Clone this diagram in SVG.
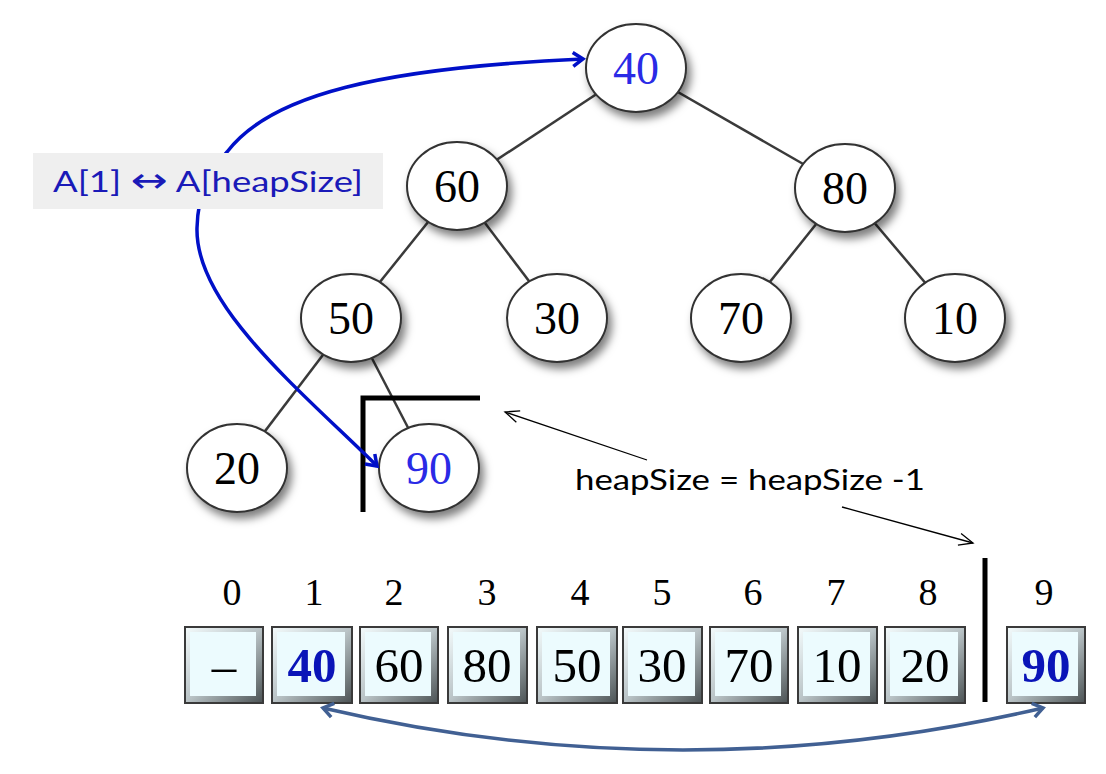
<svg xmlns="http://www.w3.org/2000/svg" width="1106" height="774" viewBox="0 0 1106 774">
<defs>
<filter id="sh" x="-30%" y="-30%" width="170%" height="170%">
<feDropShadow dx="4" dy="6" stdDeviation="4" flood-color="#000" flood-opacity="0.5"/>
</filter>
<linearGradient id="bev" x1="0" y1="0" x2="1" y2="1">
<stop offset="0" stop-color="#f4fbfc"/>
<stop offset="0.5" stop-color="#b9c3c6"/>
<stop offset="1" stop-color="#4b5254"/>
</linearGradient>
<marker id="mb" viewBox="-12 -9 14 18" refX="0" refY="0" markerWidth="14" markerHeight="18" markerUnits="userSpaceOnUse" orient="auto-start-reverse" overflow="visible">
<path d="M-10,-7 L0,0 L-10,7" fill="none" stroke="#0010c8" stroke-width="3.5" stroke-linejoin="miter"/>
</marker>
<marker id="ms" viewBox="-12 -9 14 18" refX="0" refY="0" markerWidth="14" markerHeight="18" markerUnits="userSpaceOnUse" orient="auto-start-reverse" overflow="visible">
<path d="M-10,-7 L0,0 L-10,7" fill="none" stroke="#416093" stroke-width="3.5"/>
</marker>
<marker id="mk" viewBox="-16 -8 18 16" refX="0" refY="0" markerWidth="18" markerHeight="16" markerUnits="userSpaceOnUse" orient="auto" overflow="visible">
<path d="M-14,-6 L0,0 L-14,6" fill="none" stroke="#000" stroke-width="1.3"/>
</marker>
</defs>
<style>
.edge{stroke:#3a3a3a;stroke-width:2.5;fill:none}
.node ellipse{fill:#fff;stroke:#333;stroke-width:2;filter:url(#sh)}
.nt{font-family:"Liberation Serif",serif;font-size:46px;text-anchor:middle;fill:#000}
.blue{fill:#2a2ae6}
.cell .o{fill:url(#bev);stroke:#3a3a3a;stroke-width:2}
.cell .i{fill:#ecfbfe}
.cv{font-family:"Liberation Serif",serif;font-size:49px;text-anchor:middle;fill:#000}
.cvb{font-weight:bold;fill:#0a14b8}
.idx{font-family:"Liberation Serif",serif;font-size:38px;text-anchor:middle;fill:#000}
.lbl{font-family:Lato,"DejaVu Sans",sans-serif;font-size:28px}
</style>
<rect width="1106" height="774" fill="#fff"/>

<g id="connectors">
<line class="edge" x1="636" y1="68" x2="457" y2="186"/>
<line class="edge" x1="636" y1="68" x2="845" y2="188"/>
<line class="edge" x1="457" y1="186" x2="351" y2="318"/>
<line class="edge" x1="457" y1="186" x2="557" y2="318"/>
<line class="edge" x1="845" y1="188" x2="741" y2="318"/>
<line class="edge" x1="845" y1="188" x2="955" y2="318"/>
<line class="edge" x1="351" y1="318" x2="237" y2="468"/>
<line class="edge" x1="351" y1="318" x2="429" y2="468"/>
</g>

<g id="n40" class="node"><ellipse cx="636" cy="68" rx="50" ry="44"/><text class="nt blue" x="636" y="84">40</text></g>
<g id="n60" class="node"><ellipse cx="457" cy="186" rx="50" ry="44"/><text class="nt" x="457" y="202">60</text></g>
<g id="n80" class="node"><ellipse cx="845" cy="188" rx="50" ry="44"/><text class="nt" x="845" y="204">80</text></g>
<g id="n50" class="node"><ellipse cx="351" cy="318" rx="50" ry="44"/><text class="nt" x="351" y="334">50</text></g>
<g id="n30" class="node"><ellipse cx="557" cy="318" rx="50" ry="44"/><text class="nt" x="557" y="334">30</text></g>
<g id="n70" class="node"><ellipse cx="741" cy="318" rx="50" ry="44"/><text class="nt" x="741" y="334">70</text></g>
<g id="n10" class="node"><ellipse cx="955" cy="318" rx="50" ry="44"/><text class="nt" x="955" y="334">10</text></g>
<g id="n20" class="node"><ellipse cx="237" cy="468" rx="50" ry="44"/><text class="nt" x="237" y="484">20</text></g>
<g id="n90" class="node"><ellipse cx="429" cy="468" rx="50" ry="44"/><text class="nt blue" x="429" y="484">90</text></g>

<g id="bracket">
<path d="M363,512 L363,398 L480,398" fill="none" stroke="#000" stroke-width="5"/>
</g>

<g id="swap-curve">
<path d="M377,466 C300,390 195,305 197,228 C198,190 210,172 227,152 C270,95 380,68 583,59" fill="none" stroke="#0010c8" stroke-width="3.5" marker-start="url(#mb)" marker-end="url(#mb)"/>
</g>

<g id="label-swap">
<rect x="33" y="153" width="350" height="56" fill="#efefef"/>
<text class="lbl" x="53" y="192" fill="#1a1ab8" textLength="310" lengthAdjust="spacingAndGlyphs">A[1] <tspan font-family="'DejaVu Sans',sans-serif" font-size="34">↔</tspan> A[heapSize]</text>
</g>

<g id="label-heapsize">
<text class="lbl" x="575" y="490" fill="#000" textLength="350" lengthAdjust="spacingAndGlyphs">heapSize = heapSize -1</text>
<line x1="647" y1="460" x2="505" y2="412" stroke="#000" stroke-width="1.3" marker-end="url(#mk)"/>
<line x1="842" y1="507" x2="973" y2="543" stroke="#000" stroke-width="1.3" marker-end="url(#mk)"/>
</g>

<g id="array">
<g class="cell"><rect class="o" x="185" y="627" width="78" height="76"/><rect class="i" x="190" y="632" width="66" height="64"/><text class="cv" x="224" y="682">–</text></g>
<g class="cell"><rect class="o" x="272" y="627" width="80" height="76"/><rect class="i" x="277" y="632" width="68" height="64"/><text class="cv cvb" x="312" y="682">40</text></g>
<g class="cell"><rect class="o" x="360" y="627" width="78" height="76"/><rect class="i" x="365" y="632" width="66" height="64"/><text class="cv" x="399" y="682">60</text></g>
<g class="cell"><rect class="o" x="448" y="627" width="79" height="76"/><rect class="i" x="453" y="632" width="67" height="64"/><text class="cv" x="487" y="682">80</text></g>
<g class="cell"><rect class="o" x="537" y="627" width="80" height="76"/><rect class="i" x="542" y="632" width="68" height="64"/><text class="cv" x="577" y="682">50</text></g>
<g class="cell"><rect class="o" x="623" y="627" width="79" height="76"/><rect class="i" x="628" y="632" width="67" height="64"/><text class="cv" x="662" y="682">30</text></g>
<g class="cell"><rect class="o" x="710" y="627" width="78" height="76"/><rect class="i" x="715" y="632" width="66" height="64"/><text class="cv" x="749" y="682">70</text></g>
<g class="cell"><rect class="o" x="798" y="627" width="79" height="76"/><rect class="i" x="803" y="632" width="67" height="64"/><text class="cv" x="837" y="682">10</text></g>
<g class="cell"><rect class="o" x="885" y="627" width="80" height="76"/><rect class="i" x="890" y="632" width="68" height="64"/><text class="cv" x="925" y="682">20</text></g>
<g class="cell"><rect class="o" x="1007" y="627" width="78" height="76"/><rect class="i" x="1012" y="632" width="66" height="64"/><text class="cv cvb" x="1046" y="682">90</text></g>
</g>

<g id="indices">
<text class="idx" x="232" y="605">0</text>
<text class="idx" x="314" y="605">1</text>
<text class="idx" x="394" y="605">2</text>
<text class="idx" x="487" y="605">3</text>
<text class="idx" x="580" y="605">4</text>
<text class="idx" x="662" y="605">5</text>
<text class="idx" x="753" y="605">6</text>
<text class="idx" x="836" y="605">7</text>
<text class="idx" x="928" y="605">8</text>
<text class="idx" x="1044" y="605">9</text>
</g>

<g id="divider">
<line x1="985" y1="558" x2="985" y2="702" stroke="#000" stroke-width="5"/>
</g>

<g id="bottom-swap">
<path d="M323,708 Q683,792 1043,708" fill="none" stroke="#416093" stroke-width="3.5" marker-start="url(#ms)" marker-end="url(#ms)"/>
</g>
</svg>
